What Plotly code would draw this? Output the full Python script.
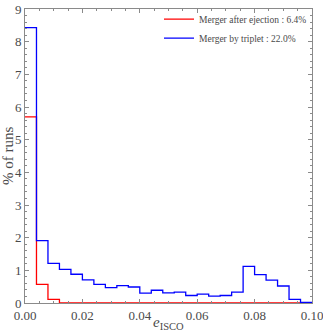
import plotly.graph_objects as go

# bin edges of e_ISCO (bin width 0.004)
edges = [round(i * 0.004, 3) for i in range(26)]

# % of runs per bin
ejection = [5.70, 0.57, 0.11, 0.0, 0.0, 0.0, 0.0, 0.0, 0.0, 0.0,
            0.0, 0.0, 0.0, 0.0, 0.0, 0.0, 0.0, 0.0, 0.0, 0.0,
            0.0, 0.0, 0.0, 0.0, 0.0]
triplet = [8.43, 1.91, 1.21, 1.03, 0.88, 0.71, 0.57, 0.47, 0.53, 0.49,
           0.30, 0.39, 0.31, 0.33, 0.23, 0.27, 0.21, 0.23, 0.33, 1.12,
           0.87, 0.70, 0.52, 0.11, 0.02]

xticks = [0.0, 0.02, 0.04, 0.06, 0.08, 0.10]
xticklabels = ['0.00', '0.02', '0.04', '0.06', '0.08', '0.10']
yticks = list(range(10))

font = 'Liberation Serif'
frame = '#8a8a8a'
txt = '#4a4a4a'

fig = go.Figure()
fig.add_trace(go.Scatter(x=edges, y=ejection + [ejection[-1]], mode='lines',
                         line=dict(color='#ff0000', width=1.3, shape='hv'),
                         name='Merger after ejection : 6.4%'))
fig.add_trace(go.Scatter(x=edges, y=triplet + [triplet[-1]], mode='lines',
                         line=dict(color='#0000ff', width=1.3, shape='hv'),
                         name='Merger by triplet : 22.0%'))

axis_common = dict(showline=True, linecolor=frame, linewidth=1, mirror='ticks',
                   ticks='inside', tickcolor=frame, ticklen=4, tickwidth=1,
                   showgrid=False, zeroline=False, automargin=False,
                   ticklabeloverflow='allow',
                   tickfont=dict(family=font, size=13, color=txt))

fig.update_xaxes(range=[0, 0.1000001], tickvals=xticks, ticktext=xticklabels,
                 minor=dict(ticks='inside', dtick=0.005, ticklen=2, tickcolor=frame),
                 **axis_common)
fig.update_yaxes(range=[0, 9], tickvals=yticks,
                 minor=dict(ticks='inside', dtick=0.2, ticklen=2, tickcolor=frame),
                 **axis_common)

# axis titles
fig.add_annotation(text='<i>e</i><sub>ISCO</sub>', xref='paper', yref='paper',
                   x=0.5, y=0, yanchor='top', yshift=-9, showarrow=False,
                   font=dict(family=font, size=15, color=txt))
fig.add_annotation(text='% of runs', xref='paper', yref='paper', textangle=-90,
                   x=0, y=0.5, xanchor='center', xshift=-17, showarrow=False,
                   font=dict(family=font, size=15, color=txt))

fig.update_layout(width=323, height=331,
                  margin=dict(l=25, r=11, t=5, b=28),
                  plot_bgcolor='white', paper_bgcolor='white',
                  legend=dict(x=1.0, y=1.015, xanchor='right', yanchor='top',
                              bgcolor='rgba(0,0,0,0)', tracegroupgap=0,
                              font=dict(family=font, size=9.5, color=txt)),
                  showlegend=True)

# page body has a default 8px margin; remove it so the figure fills the window
fig.write_html('out.html', config={'displayModeBar': False},
               post_script="document.body.style.margin='0px';")
